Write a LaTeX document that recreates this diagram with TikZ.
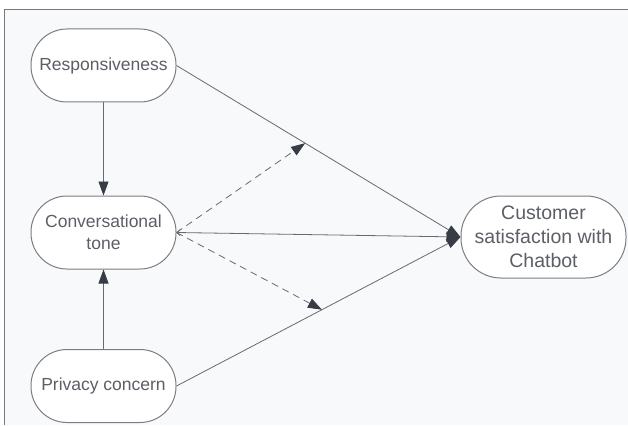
\documentclass[tikz,border=0pt]{standalone}
\usepackage{fontspec}
\setmainfont{Liberation Sans}
\usetikzlibrary{arrows.meta, calc, positioning}

\definecolor{framebg}{RGB}{248,249,251}
\definecolor{framegray}{RGB}{120,120,125}
\definecolor{edgegray}{RGB}{105,105,112}
\definecolor{boxgray}{RGB}{125,125,132}
\definecolor{tipdark}{RGB}{55,60,70}
\definecolor{txtgray}{RGB}{92,95,102}

\begin{document}
\begin{tikzpicture}[
    x=1pt, y=-1pt,
    construct/.style={draw=boxgray, line width=1pt, fill=white,
      rounded corners=36pt, minimum width=145pt, minimum height=73pt,
      align=center, text=txtgray, inner sep=0pt,
      font=\fontsize{17.5}{22}\selectfont},
    outcome/.style={construct, rounded corners=40pt, minimum width=165pt,
      minimum height=82pt, font=\fontsize{19.5}{24}\selectfont},
    effect/.style={draw=edgegray, line width=0.8pt,
      -{Triangle[length=14pt, width=10pt, color=tipdark]}},
    moder/.style={effect, dash pattern=on 7pt off 5pt},
]
\useasboundingbox (0,0) rectangle (628,425);

% background frame
\fill[framebg] (4.5,9.5) rectangle (628,425);
\draw[framegray, line width=0.8pt] (4.5,425) -- (4.5,9.5) -- (628,9.5);

% --- constructs ---
\node[construct] (resp) at (103.5,65.5) {Responsiveness};
\node[construct] (tone) at (103.5,232.5) {Conversational\\tone};
\node[construct] (priv) at (103.5,386) {Privacy concern};
\node[outcome]   (sat)  at (543.5,237) {Customer\\satisfaction with\\Chatbot};

% direct effects
\draw[effect] (resp) -- (tone);
\draw[effect] (priv) -- (tone);
\draw[effect] (resp.east) -- (sat.west);
\draw[effect] (priv.east) -- (sat.west);
\draw[effect, {Straight Barb[length=3pt, width=6pt]}-{Triangle[length=14pt, width=10pt, color=tipdark]}]
      (tone.east) -- (sat.west);

% moderation paths (onto the direct effects)
\coordinate (upmid)  at ($(resp.east)!0.453!(sat.west)$);
\coordinate (lowmid) at ($(priv.east)!0.512!(sat.west)$);
\draw[moder] (tone.east) -- (upmid);
\draw[moder] (tone.east) -- (lowmid);
\end{tikzpicture}
\end{document}
